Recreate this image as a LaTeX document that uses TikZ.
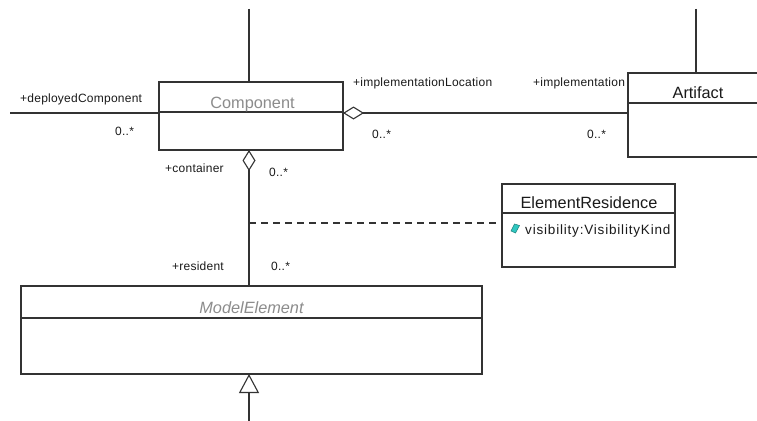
\documentclass[tikz,border=0pt]{standalone}
\usepackage{fontspec}
\setmainfont{Liberation Sans}
\usetikzlibrary{arrows.meta}

\definecolor{edge}{HTML}{333333}
\definecolor{ink}{HTML}{1A1A1A}
\definecolor{dimtext}{HTML}{8C8C8C}
\definecolor{gem}{HTML}{2FC7C0}
\definecolor{gemdark}{HTML}{1A7F7A}

\begin{document}
\begin{tikzpicture}[x=1pt, y=-1pt,
  classbox/.style={draw=edge, line width=1.2pt, fill=white, inner sep=0pt, outer sep=0pt},
  wire/.style={draw=edge, line width=1.2pt},
  rolelabel/.style={inner sep=0pt, text=ink, anchor=base west,
    font=\fontsize{12}{14}\selectfont\addfontfeature{LetterSpace=2}},
  classtitle/.style={inner sep=0pt, anchor=base, font=\fontsize{16.3}{18}\selectfont},
  attrtext/.style={inner sep=0pt, text=ink, anchor=base west,
    font=\fontsize{13.5}{15}\selectfont\addfontfeature{LetterSpace=6}},
  aggr/.style={wire, {Diamond[open, length=21pt, width=13pt, line width=1.1pt]}-},
  gener/.style={wire, -{Triangle[open, length=19pt, width=20pt, line width=1.1pt]}},
  depends/.style={draw=edge, line width=1.1pt, dash pattern=on 7pt off 5pt}
]
\clip (0,0) rectangle (757,420);
\fill[white] (0,0) rectangle (757,420);

% ---- classes ----
\node[classbox, minimum width=184pt, minimum height=68pt] (comp) at (251,116) {};
\node[classbox, minimum width=172pt, minimum height=84pt] (art) at (714,115) {};
\node[classbox, minimum width=173pt, minimum height=83pt] (er) at (588.5,225.5) {};
\node[classbox, minimum width=461pt, minimum height=88pt] (me) at (251.5,330) {};

% compartment dividers
\coordinate (compdiv) at (0,112);
\coordinate (artdiv) at (0,103);
\coordinate (erdiv) at (0,213);
\coordinate (mediv) at (0,318);
\draw[wire] (compdiv -| comp.west) -- (compdiv -| comp.east);
\draw[wire] (artdiv -| art.west) -- (artdiv -| art.east);
\draw[wire] (erdiv -| er.west) -- (erdiv -| er.east);
\draw[wire] (mediv -| me.west) -- (mediv -| me.east);

% class names
\node[classtitle, text=dimtext] (compname) at (252.5,108) {Component};
\node[classtitle, text=ink] (artname) at (698,98) {Artifact};
\node[classtitle, text=ink] (ername) at (589,208) {ElementResidence};
\node[classtitle, text=dimtext, font=\fontsize{16.3}{18}\selectfont\itshape] (mename) at (251.5,313) {ModelElement};

% attribute with its visibility marker
\node[attrtext] (visattr) at (525,234) {visibility:VisibilityKind};
\filldraw[fill=gem, draw=gemdark, line width=0.5pt]
  (511,231) -- (514.5,224) -- (519.5,225.5) -- (515.5,233) -- cycle;

% ---- connectors ----
\coordinate (compup) at (249,9);
\draw[wire] (compup) -- (compup |- comp.north);

\coordinate (artup) at (696,9);
\draw[wire] (artup) -- (artup |- art.north);

\coordinate (deployend) at (10,113);
\draw[wire] (deployend) -- (deployend -| comp.west);

\coordinate (implrow) at (0,113);
\draw[aggr] (implrow -| comp.east) -- (implrow -| art.west);

\coordinate (contcol) at (249,0);
\draw[aggr] (contcol |- comp.south) -- (contcol |- me.north);

\coordinate (resrow) at (249,223);
\draw[depends] (resrow) -- (resrow -| er.west);

\coordinate (genbase) at (249,425);
\draw[gener] (genbase) -- (genbase |- me.south);

% ---- role names and multiplicities ----
\node[rolelabel] (lblDeployed) at (20,102) {+deployedComponent};
\node[rolelabel] (mulDeployed) at (115,135) {0..*};
\node[rolelabel] (lblImplLoc) at (353,86) {+implementationLocation};
\node[rolelabel] (mulImplLoc) at (372,138) {0..*};
\node[rolelabel] (lblImpl) at (533,86) {+implementation};
\node[rolelabel] (mulImpl) at (587,138) {0..*};
\node[rolelabel] (lblContainer) at (165,172) {+container};
\node[rolelabel] (mulContainer) at (269,176) {0..*};
\node[rolelabel] (lblResident) at (172,270) {+resident};
\node[rolelabel] (mulResident) at (271,270) {0..*};
\end{tikzpicture}
\end{document}
